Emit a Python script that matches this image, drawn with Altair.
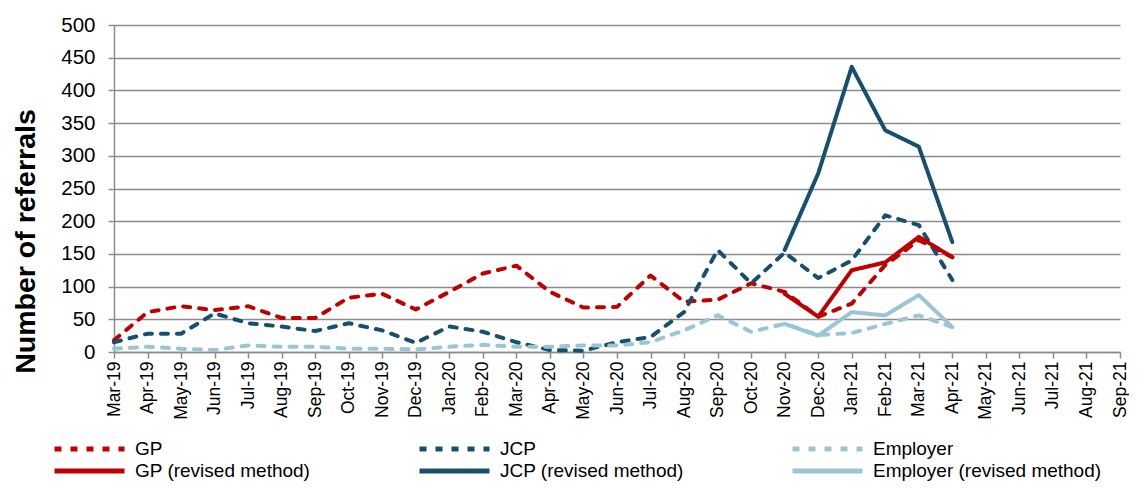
import altair as alt
import pandas as pd

months = ["Mar-19", "Apr-19", "May-19", "Jun-19", "Jul-19", "Aug-19", "Sep-19", "Oct-19",
          "Nov-19", "Dec-19", "Jan-20", "Feb-20", "Mar-20", "Apr-20", "May-20", "Jun-20",
          "Jul-20", "Aug-20", "Sep-20", "Oct-20", "Nov-20", "Dec-20", "Jan-21", "Feb-21",
          "Mar-21", "Apr-21", "May-21", "Jun-21", "Jul-21", "Aug-21", "Sep-21"]

# Mar-19 .. Apr-21
gp = [18, 61, 70, 64, 70, 52, 52, 83, 89, 65, 92, 120, 132, 92, 68, 69, 117, 77, 80, 105,
      92, 54, 74, 133, 171, 145]
jcp = [15, 28, 28, 59, 44, 39, 32, 44, 33, 14, 39, 31, 15, 3, 2, 15, 23, 61, 156, 105,
       152, 113, 140, 209, 194, 110]
employer = [5, 8, 5, 3, 10, 8, 8, 5, 5, 4, 8, 11, 8, 8, 10, 10, 15, 33, 56, 31,
            43, 26, 29, 43, 56, 38]
# Nov-20 .. Apr-21
gp_rev = [89, 54, 125, 137, 176, 145]
jcp_rev = [156, 273, 436, 339, 314, 168]
employer_rev = [43, 25, 61, 56, 87, 38]

series_names = ["GP", "JCP", "Employer",
                "GP (revised method)", "JCP (revised method)", "Employer (revised method)"]
series_colors = ["#C00000", "#17506F", "#9BC5D2", "#C00000", "#17506F", "#9BC5D2"]
series_dash = [[7, 9], [7, 9], [7, 9], [1, 0], [1, 0], [1, 0]]

rows = []
for name, vals, start in [("GP", gp, 0), ("JCP", jcp, 0), ("Employer", employer, 0),
                          ("GP (revised method)", gp_rev, 20),
                          ("JCP (revised method)", jcp_rev, 20),
                          ("Employer (revised method)", employer_rev, 20)]:
    for i, v in enumerate(vals):
        rows.append({"month": months[start + i], "value": v, "series": name,
                     "order": series_names.index(name)})
df = pd.DataFrame(rows)

legend = alt.Legend(
    title=None, orient="none", legendX=-62, legendY=413, columns=3, direction="horizontal",
    symbolType="stroke", symbolSize=4900, symbolStrokeWidth=5, clipHeight=22,
    labelFontSize=19, labelFont="Liberation Sans", labelColor="#000000", labelLimit=500,
    columnPadding=106, rowPadding=0, labelOffset=8, padding=0,
)

chart = alt.Chart(df).mark_line(strokeWidth=4, strokeCap="round", strokeJoin="round").encode(
    x=alt.X("month:O", sort=months,
            scale=alt.Scale(type="point", domain=months, padding=0),
            axis=alt.Axis(title=None, labelAngle=270, labelFontSize=17.5, labelColor="#000000",
                          tickSize=6, labelPadding=3, labelBaseline="middle", labelAlign="right")),
    y=alt.Y("value:Q", scale=alt.Scale(domain=[0, 500], nice=False),
            axis=alt.Axis(values=list(range(0, 501, 50)), title="Number of referrals",
                          titleFontSize=28.5, titleFontWeight="bold", titleColor="#000000",
                          titlePadding=20, titleY=216, labelFontSize=20.5, labelColor="#000000",
                          tickSize=6, labelPadding=13)),
    color=alt.Color("series:N", scale=alt.Scale(domain=series_names, range=series_colors),
                    legend=legend),
    strokeDash=alt.StrokeDash("series:N", scale=alt.Scale(domain=series_names, range=series_dash),
                              legend=legend),
    detail="series:N",
    order="order:Q",
).properties(
    width=1006, height=327,
    autosize=alt.AutoSizeParams(type="none"),
    padding={"left": 106, "top": 17, "right": 9, "bottom": 129},
).configure(
    font="Liberation Sans",
).configure_axis(
    domainColor="#8C8C8C", domainWidth=1.5, tickColor="#8C8C8C", tickWidth=1.5,
    gridColor="#8C8C8C", gridWidth=1.3,
).configure_axisX(grid=False).configure_view(stroke=None)

chart.save("out.html", embed_options={"renderer": "svg", "actions": False})
